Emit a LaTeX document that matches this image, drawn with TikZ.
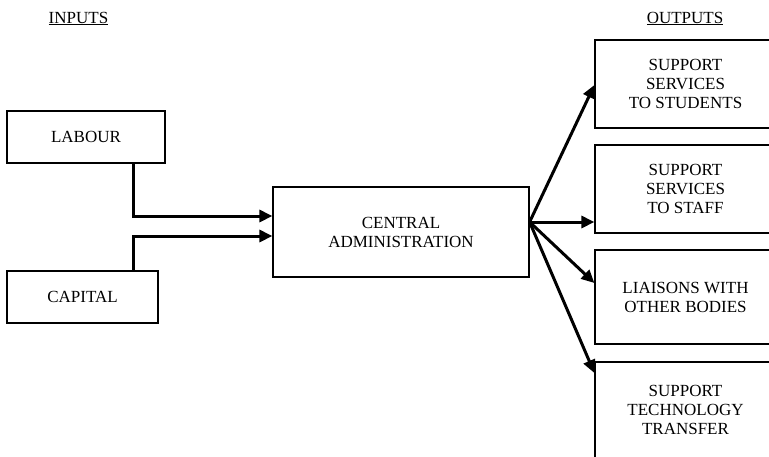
\documentclass[tikz,border=0pt]{standalone}
\usepackage{fontspec}
\setmainfont{Liberation Serif}
\usetikzlibrary{arrows.meta}

\begin{document}
\begin{tikzpicture}[x=1pt, y=-1pt,
		box/.style={draw, line width=1.2pt, inner sep=0pt, align=center,
			font=\fontsize{17}{19}\selectfont},
		flow/.style={-{Triangle[length=13pt, width=12pt]}, line width=3pt},
		heading/.style={anchor=base, inner sep=0pt, font=\fontsize{17}{19}\selectfont}]
	\useasboundingbox (0,0) rectangle (769,456);
	\clip (0,0) rectangle (769,456);
	\newcommand{\outBox}[3]{
		% args:
		%     name
		%     y of centre
		%     height
		\node[box, minimum width=181pt, minimum height=#3pt] (#1) at (685.5,#2)
	}
	% headings
	\node[heading] (inputs) at (78.5,23) {\underline{INPUTS}};
	\node[heading] (outputs) at (685,23) {\underline{OUTPUTS}};
	% inputs
	\node[box, minimum width=158pt, minimum height=52pt] (labour) at (86,137) {LABOUR};
	\node[box, minimum width=151pt, minimum height=52pt] (capital) at (82.5,297) {CAPITAL};
	% centre
	\node[box, minimum width=256pt, minimum height=90pt] (central) at (401,232) {CENTRAL\\ADMINISTRATION};
	% outputs, cut off by the right edge
	\outBox{students}{84}{88} {SUPPORT\\SERVICES\\TO STUDENTS};
	\outBox{staff}{189}{88} {SUPPORT\\SERVICES\\TO STAFF};
	\outBox{liaisons}{297}{94} {LIAISONS WITH\\OTHER BODIES};
	\outBox{transfer}{410}{96} {SUPPORT\\TECHNOLOGY\\TRANSFER};
	% input arrows
	\draw[flow] ([xshift=47pt]labour.south) |- ([yshift=16pt]central.west);
	\draw[flow] ([xshift=50.5pt]capital.north) |- ([yshift=-4pt]central.west);
	% output arrows, all from one point
	\coordinate (hub) at ([yshift=10pt]central.east);
	\draw[flow] (hub) -- ([yshift=-1pt]students.west);
	\draw[flow] (hub) -- (hub -| staff.west);
	\draw[flow] (hub) -- ([yshift=14pt]liaisons.west);
	\draw[flow] (hub) -- ([yshift=37pt]transfer.west);
\end{tikzpicture}
\end{document}
